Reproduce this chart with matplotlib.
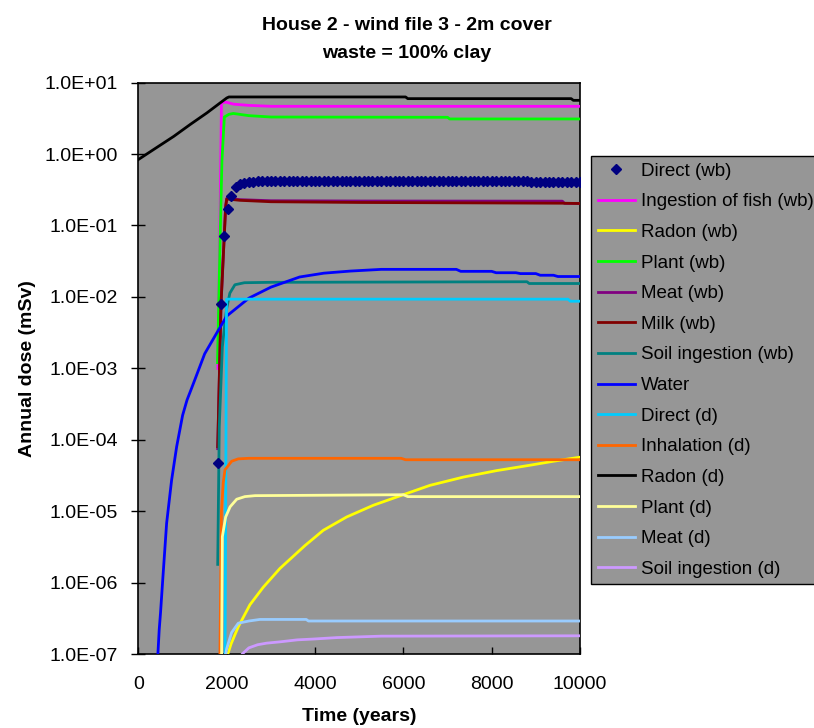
import matplotlib
matplotlib.use("Agg")
import matplotlib.pyplot as plt
from matplotlib.ticker import FixedLocator, FuncFormatter, NullLocator

# ---------------- data ----------------
title_lines = ["House 2 - wind file 3 - 2m cover", "waste = 100% clay"]
x_label = "Time (years)"
y_label = "Annual dose (mSv)"
x_ticks = [0, 2000, 4000, 6000, 8000, 10000]
y_ticks = [1e-7, 1e-6, 1e-5, 1e-4, 1e-3, 1e-2, 1e-1, 1e0, 1e1]

# Direct (wb) - markers
direct_wb_t = [1800, 1870, 1945, 2020, 2100, 2200] + list(range(2300, 10001, 100))
direct_wb_v = [4.7e-5, 8.0e-3, 0.071, 0.17, 0.26, 0.35,
               0.38, 0.39, 0.40, 0.41, 0.415, 0.42, 0.422, 0.425,
               0.426, 0.426, 0.426, 0.426, 0.426, 0.426, 0.426, 0.426, 0.426, 0.426,
               0.426, 0.426, 0.426, 0.426, 0.426, 0.426, 0.426, 0.426, 0.426, 0.426,
               0.426, 0.426, 0.426, 0.426, 0.426, 0.426, 0.426, 0.426, 0.426, 0.426,
               0.426, 0.426, 0.426, 0.426, 0.426, 0.426, 0.426, 0.426, 0.426, 0.426,
               0.426, 0.426, 0.426, 0.426, 0.426, 0.426, 0.426, 0.426, 0.426, 0.426,
               0.426, 0.426, 0.426, 0.426, 0.426, 0.426, 0.426, 0.426,
               0.404, 0.404, 0.404, 0.404, 0.404, 0.404, 0.404, 0.404, 0.404, 0.404,
               0.404, 0.404]

fish_wb_t = [1800, 1840, 1880, 2000, 2150, 2500, 3000, 10000]
fish_wb_v = [1.0e-3, 0.05, 5.3, 5.3, 5.0, 4.8, 4.66, 4.66]

radon_wb_t = [2000, 2100, 2260, 2525, 2825, 3205, 3771, 4186, 4716, 5319, 5961, 6603,
              7357, 8114, 8868, 9396, 10000]
radon_wb_v = [9e-8, 1.4e-7, 2.4e-7, 4.9e-7, 8.6e-7, 1.58e-6, 3.3e-6, 5.4e-6, 8.3e-6,
              1.21e-5, 1.67e-5, 2.3e-5, 3.0e-5, 3.7e-5, 4.4e-5, 5.0e-5, 5.7e-5]

plant_wb_t = [1790, 1845, 1890, 1945, 2050, 2150, 2500, 3000, 7000, 7050, 10000]
plant_wb_v = [1.2e-3, 0.05, 0.8, 3.3, 3.6, 3.7, 3.45, 3.3, 3.27, 3.1, 3.1]

meat_wb_t = [1795, 1870, 1945, 1975, 2000, 2300, 3000, 5000, 9600, 9650, 10000]
meat_wb_v = [7.5e-5, 8.0e-3, 0.075, 0.19, 0.24, 0.23, 0.222, 0.22, 0.219, 0.204, 0.204]

milk_wb_t = [1795, 1870, 1945, 1975, 2000, 2300, 3000, 5000, 9600, 10000]
milk_wb_v = [8.0e-5, 8.0e-3, 0.075, 0.18, 0.235, 0.225, 0.215, 0.21, 0.205, 0.203]

soil_wb_t = [1795, 1830, 1900, 1960, 2000, 2070, 2185, 2400, 3000, 8800, 8850, 10000]
soil_wb_v = [1.8e-6, 1.5e-4, 2.0e-3, 4.5e-3, 7e-3, 0.0113, 0.0148, 0.0158, 0.016, 0.0163,
             0.0154, 0.0154]

water_t = [400, 440, 470, 500, 550, 638, 750, 865, 1000, 1100, 1200, 1280, 1500, 1770,
           2000, 2500, 3000, 3650, 4200, 4800, 5500, 7200, 7300, 8000, 8100, 8550, 8650,
           9000, 9100, 9400, 9500, 10000]
water_v = [6e-8, 1e-7, 2.2e-7, 3.8e-7, 1.1e-6, 6.8e-6, 2.7e-5, 8.0e-5, 2.2e-4, 3.6e-4,
           5.2e-4, 7e-4, 1.6e-3, 3.1e-3, 5.4e-3, 9.6e-3, 1.37e-2, 1.9e-2, 2.15e-2, 2.3e-2,
           2.43e-2, 2.43e-2, 2.28e-2, 2.28e-2, 2.18e-2, 2.18e-2, 2.12e-2, 2.12e-2, 2.01e-2,
           2.01e-2, 1.93e-2, 1.93e-2]

direct_d_t = [1960, 1995, 2100, 9730, 9780, 10000]
direct_d_v = [5e-8, 9.3e-3, 9.3e-3, 9.3e-3, 8.7e-3, 8.7e-3]

inhal_d_t = [1840, 1880, 1920, 1960, 2110, 2260, 2500, 5950, 6050, 10000]
inhal_d_v = [5e-8, 1e-5, 2.5e-5, 3.8e-5, 5.0e-5, 5.4e-5, 5.5e-5, 5.5e-5, 5.25e-5, 5.25e-5]

radon_d_t = [0, 400, 800, 1170, 1550, 1850, 2000, 2050, 6050, 6100, 9800, 9850, 10000]
radon_d_v = [0.84, 1.22, 1.77, 2.59, 3.77, 5.2, 6.1, 6.3, 6.3, 5.97, 5.97, 5.65, 5.65]

plant_d_t = [1880, 1900, 1975, 2075, 2225, 2410, 2640, 6000, 6100, 10000]
plant_d_v = [5e-8, 4.4e-6, 8.3e-6, 1.15e-5, 1.47e-5, 1.6e-5, 1.65e-5, 1.7e-5, 1.6e-5, 1.6e-5]

meat_d_t = [1950, 2000, 2110, 2260, 2500, 2750, 3800, 3850, 10000]
meat_d_v = [8e-8, 1.2e-7, 2.0e-7, 2.7e-7, 2.9e-7, 3.05e-7, 3.05e-7, 2.9e-7, 2.9e-7]

soil_d_t = [2300, 2350, 2500, 2700, 2900, 3200, 3600, 3950, 4500, 5500, 10000]
soil_d_v = [8e-8, 1.0e-7, 1.22e-7, 1.35e-7, 1.42e-7, 1.48e-7, 1.58e-7, 1.62e-7, 1.7e-7,
            1.78e-7, 1.8e-7]

line_series = [
    ("Ingestion of fish (wb)", fish_wb_t, fish_wb_v, "#FF00FF"),
    ("Radon (wb)", radon_wb_t, radon_wb_v, "#FFFF00"),
    ("Plant (wb)", plant_wb_t, plant_wb_v, "#00FF00"),
    ("Meat (wb)", meat_wb_t, meat_wb_v, "#800080"),
    ("Milk (wb)", milk_wb_t, milk_wb_v, "#800000"),
    ("Soil ingestion (wb)", soil_wb_t, soil_wb_v, "#008080"),
    ("Water", water_t, water_v, "#0000FF"),
    ("Direct (d)", direct_d_t, direct_d_v, "#00CCFF"),
    ("Inhalation (d)", inhal_d_t, inhal_d_v, "#FF6600"),
    ("Radon (d)", radon_d_t, radon_d_v, "#000000"),
    ("Plant (d)", plant_d_t, plant_d_v, "#FFFF99"),
    ("Meat (d)", meat_d_t, meat_d_v, "#99CCFF"),
    ("Soil ingestion (d)", soil_d_t, soil_d_v, "#CC99FF"),
]

# ---------------- plot ----------------
plt.rcParams["font.family"] = ["Liberation Sans", "DejaVu Sans"]
fig = plt.figure(figsize=(8.14, 7.28), dpi=100)
fig.patch.set_facecolor("white")
ax = fig.add_axes([0.1701, 0.1016, 0.7125 - 0.1701, 0.8865 - 0.1016])
ax.set_facecolor("#969696")

handles = []
h = ax.plot(direct_wb_t, direct_wb_v, linestyle="none", marker="D", markersize=4.6,
            color="#000080", label="Direct (wb)", zorder=20)[0]
handles.append(h)
for i, (name, t, v, c) in enumerate(line_series):
    h = ax.plot(t, v, color=c, lw=2.0, label=name, zorder=3 + i)[0]
    handles.append(h)

ax.set_yscale("log")
ax.set_xlim(0, 10000)
ax.set_ylim(1e-7, 1e1)
ax.xaxis.set_major_locator(FixedLocator(x_ticks))
ax.yaxis.set_major_locator(FixedLocator(y_ticks))
ax.yaxis.set_minor_locator(NullLocator())
ax.xaxis.set_minor_locator(NullLocator())
ax.yaxis.set_major_formatter(FuncFormatter(lambda v, p: f"{v:.1E}"))
ax.xaxis.set_major_formatter(FuncFormatter(lambda v, p: f"{int(v)}"))
ax.tick_params(axis="x", direction="in", length=5, width=1, labelsize=14, pad=16)
ax.tick_params(axis="y", direction="inout", length=10, width=1, labelsize=14, pad=10)
for s in ax.spines.values():
    s.set_color("#000000")
    s.set_linewidth(1.2)

ax.set_xlabel(x_label, fontsize=14, fontweight="bold")
ax.xaxis.set_label_coords(0.5, -0.095)
ax.set_ylabel(y_label, fontsize=14, fontweight="bold")
ax.yaxis.set_label_coords(-0.232, 0.5)

fig.text(0.5, 1 - 25 / 728, title_lines[0], ha="center", va="center",
         fontsize=14, fontweight="bold")
fig.text(0.5, 1 - 53 / 728, title_lines[1], ha="center", va="center",
         fontsize=14, fontweight="bold")

leg = fig.legend(handles=handles, loc="upper left", bbox_to_anchor=(591 / 814, 1 - 156 / 728),
                 bbox_transform=fig.transFigure, fontsize=13.5, frameon=True, fancybox=False,
                 borderaxespad=0, handlelength=2.0, handletextpad=0.3, labelspacing=0.72,
                 borderpad=0.35, markerscale=1.0)
leg.get_frame().set_facecolor("#969696")
leg.get_frame().set_edgecolor("#000000")
leg.get_frame().set_linewidth(1.0)
leg.get_frame().set_alpha(1.0)

fig.savefig("out.png", dpi=100)
